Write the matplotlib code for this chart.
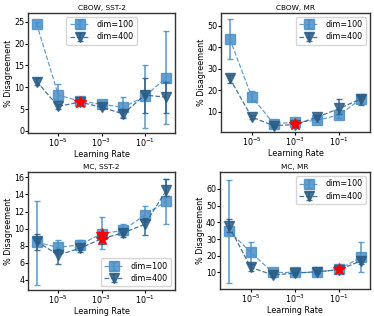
import numpy as np
import matplotlib
matplotlib.use("Agg")
import matplotlib.pyplot as plt
from matplotlib.ticker import LogLocator, NullLocator

lr = [1e-6, 1e-5, 1e-4, 1e-3, 1e-2, 1e-1, 1.0]

# CBOW, SST-2
cs_100 = [24.5, 8.2, 6.8, 6.1, 5.4, 7.9, 12.2]
cs_100_lo = [24.0, 6.8, 6.3, 5.6, 3.2, 0.7, 1.5]
cs_100_hi = [25.0, 10.7, 7.3, 6.6, 7.8, 15.1, 22.9]
cs_400 = [11.3, 5.6, 6.6, 5.4, 3.9, 8.2, 7.7]
cs_400_lo = [10.4, 5.0, 6.1, 4.9, 2.9, 4.2, 4.2]
cs_400_hi = [12.0, 6.2, 7.1, 5.9, 5.0, 12.2, 11.2]
cs_star = [(1e-4, 6.7)]

# CBOW, MR
cm_100 = [44.0, 17.0, 4.5, 5.0, 6.0, 8.5, 16.0]
cm_100_lo = [34.5, 15.0, 3.5, 4.0, 5.0, 7.0, 14.5]
cm_100_hi = [53.3, 19.5, 5.5, 6.0, 7.0, 10.0, 17.5]
cm_400 = [25.5, 7.5, 3.5, 4.0, 7.5, 11.5, 16.0]
cm_400_lo = [23.5, 6.5, 3.0, 3.5, 6.5, 9.0, 13.2]
cm_400_hi = [27.0, 8.5, 4.0, 4.5, 8.5, 15.8, 17.5]
cm_star = [(1e-3, 4.5)]

# MC, SST-2
ms_100 = [8.4, 7.8, 8.1, 9.4, 9.8, 11.6, 13.2]
ms_100_lo = [3.4, 7.2, 7.6, 7.6, 9.2, 10.8, 10.5]
ms_100_hi = [13.2, 8.7, 8.7, 11.4, 10.5, 12.6, 15.8]
ms_400 = [8.5, 6.9, 7.7, 8.8, 9.5, 10.5, 14.5]
ms_400_lo = [7.5, 5.9, 7.3, 8.2, 9.0, 9.3, 13.8]
ms_400_hi = [9.4, 7.6, 8.2, 9.4, 10.0, 11.2, 15.8]
ms_star = [(1e-3, 9.4), (1e-3, 8.8)]

# MC, MR
mm_100 = [35.0, 22.0, 10.0, 10.0, 10.0, 12.0, 19.0]
mm_100_lo = [3.5, 15.0, 8.5, 9.0, 9.0, 10.5, 10.0]
mm_100_hi = [65.5, 28.0, 11.5, 11.0, 11.0, 13.5, 28.0]
mm_400 = [38.0, 13.0, 8.5, 9.5, 10.5, 11.5, 17.0]
mm_400_lo = [34.0, 11.0, 7.5, 8.5, 9.5, 10.5, 15.0]
mm_400_hi = [42.0, 15.0, 9.5, 10.5, 11.5, 12.5, 19.0]
mm_star = [(1e-1, 12.0)]

c100 = "#4a90c8"
c400 = "#2b5d84"

plt.rcParams["font.family"] = "DejaVu Sans"
plt.rcParams["font.size"] = 5.5

fig = plt.figure(figsize=(3.74, 3.16), dpi=100)

panels = [
    ("CBOW, SST-2", cs_100, cs_100_lo, cs_100_hi, cs_400, cs_400_lo, cs_400_hi, cs_star,
     (0.075, 0.579, 0.393, 0.380), (-0.5, 27), [0, 5, 10, 15, 20, 25], "upper center"),
    ("CBOW, MR", cm_100, cm_100_lo, cm_100_hi, cm_400, cm_400_lo, cm_400_hi, cm_star,
     (0.591, 0.582, 0.398, 0.377), (0.5, 56), [10, 20, 30, 40, 50], "upper right"),
    ("MC, SST-2", ms_100, ms_100_lo, ms_100_hi, ms_400, ms_400_lo, ms_400_hi, ms_star,
     (0.075, 0.082, 0.393, 0.373), (2.8, 16.6), [4, 6, 8, 10, 12, 14, 16], "lower right"),
    ("MC, MR", mm_100, mm_100_lo, mm_100_hi, mm_400, mm_400_lo, mm_400_hi, mm_star,
     (0.588, 0.085, 0.401, 0.370), (0, 70), [10, 20, 30, 40, 50, 60], "upper right"),
]

for (title, y1, lo1, hi1, y4, lo4, hi4, stars, rect, ylim, yticks, loc) in panels:
    ax = fig.add_axes(rect)
    y1 = np.array(y1); y4 = np.array(y4)
    err1 = [y1 - np.array(lo1), np.array(hi1) - y1]
    err4 = [y4 - np.array(lo4), np.array(hi4) - y4]
    ax.errorbar(lr, y1, yerr=err1, color=c100, marker="s", markersize=6.5, linestyle="--",
                linewidth=0.9, capsize=2, elinewidth=1.2, ecolor=c100, alpha=0.85,
                label="dim=100", zorder=2)
    ax.errorbar(lr, y4, yerr=err4, color=c400, marker="v", markersize=6.5, linestyle="--",
                linewidth=0.9, capsize=2, elinewidth=1.2, ecolor=c400, alpha=0.85,
                label="dim=400", zorder=3)
    for sx, sy in stars:
        ax.plot(sx, sy, marker="*", color="red", markersize=9, linestyle="none", zorder=5)
    ax.set_xscale("log")
    ax.set_xlim(4e-7, 2.5)
    ax.xaxis.set_major_locator(LogLocator(base=100.0, subs=[0.1]))
    ax.xaxis.set_minor_locator(NullLocator())
    ax.set_ylim(*ylim)
    ax.set_yticks(yticks)
    ax.set_title(title, fontsize=5.3, pad=2)
    ax.set_xlabel("Learning Rate", fontsize=5.8, labelpad=0.5)
    ax.set_ylabel("% Disagreement", fontsize=5.8, labelpad=0.5)
    ax.tick_params(labelsize=5.8, length=2, pad=0.8)
    for s in ax.spines.values():
        s.set_color("#333333")
        s.set_linewidth(1.0)
    ax.legend(loc=loc, fontsize=5.8, handlelength=2.5, borderpad=0.4, labelspacing=0.4)

fig.savefig("out.png", dpi=100)
